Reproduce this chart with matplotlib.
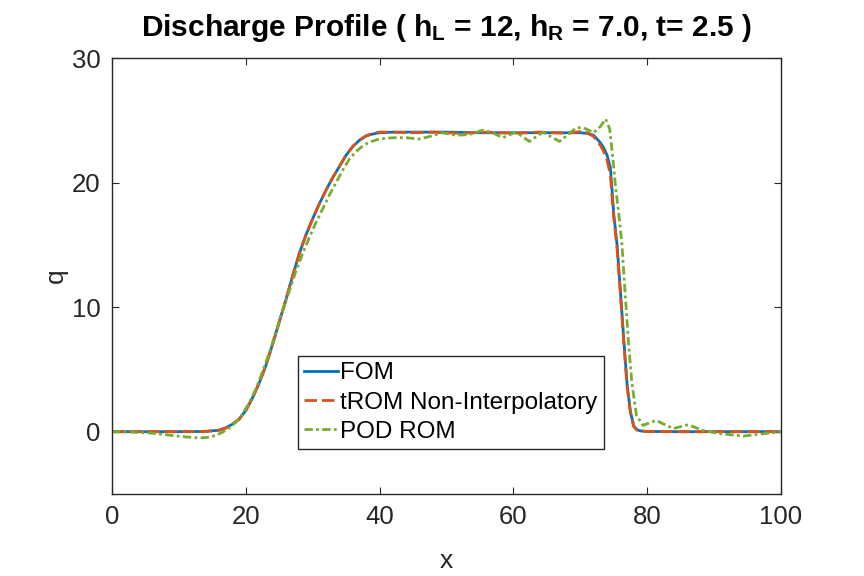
import numpy as np
import matplotlib
matplotlib.use("Agg")
import matplotlib.pyplot as plt

plt.rcParams['font.family'] = ['Liberation Sans', 'DejaVu Sans']
plt.rcParams['mathtext.fontset'] = 'custom'
plt.rcParams['mathtext.rm'] = 'Liberation Sans:bold'
plt.rcParams['mathtext.it'] = 'Liberation Sans:bold'
plt.rcParams['mathtext.bf'] = 'Liberation Sans:bold'

# values
x_fom = [0, 5, 10, 14, 16, 17, 18, 19, 20, 21, 22, 23, 24, 25, 26, 27, 28, 29, 30,
         31, 32, 33, 34, 35, 36, 37, 38, 39, 40, 42, 45, 50, 55, 60, 65, 70, 71, 72,
         73, 73.5, 74, 74.5, 75, 75.5, 76, 76.5, 77, 77.5, 78, 78.5, 79, 80, 85, 90,
         95, 100]
q_fom = [0, 0, 0, 0.02, 0.12, 0.3, 0.6, 1.0, 1.7, 2.7, 3.9, 5.3, 7.0, 8.8, 10.6,
         12.5, 14.3, 15.8, 17.1, 18.3, 19.4, 20.4, 21.3, 22.2, 22.9, 23.4, 23.75,
         23.9, 24.0, 24.05, 24.05, 24.05, 24.0, 24.0, 24.0, 24.0, 23.95, 23.8, 23.2,
         22.8, 22.2, 21.2, 17.5, 15.0, 11.3, 7.4, 3.8, 1.6, 0.45, 0.15, 0.06, 0.02,
         0, 0, 0, 0]

x_trom = [0, 5, 10, 14, 16, 17, 18, 19, 20, 21, 22, 23, 24, 25, 26, 27, 28, 29, 30,
          31, 32, 33, 34, 35, 36, 37, 38, 39, 40, 42, 45, 48, 52, 56, 60, 64, 68, 70,
          71, 72, 73, 73.5, 74, 74.5, 75, 75.5, 76, 76.5, 77, 77.5, 78, 78.5, 79, 80,
          85, 90, 95, 100]
q_trom = [0, 0, 0, 0.02, 0.12, 0.3, 0.6, 1.0, 1.7, 2.7, 3.9, 5.3, 7.0, 8.8, 10.6,
          12.5, 14.3, 15.8, 17.1, 18.3, 19.4, 20.4, 21.3, 22.2, 22.9, 23.4, 23.75,
          23.95, 24.05, 24.05, 24.0, 24.05, 23.95, 24.05, 23.95, 24.05, 23.95, 24.1,
          24.0, 23.7, 23.0, 22.5, 21.8, 20.6, 17.2, 14.7, 11.0, 7.2, 3.6, 1.5, 0.4,
          0.12, 0.05, 0.02, 0, 0, 0, 0]

x_pod = [0, 3, 6, 9, 11, 13, 14.5, 15.5, 16.5, 17.5, 18.5, 19.5, 20.5, 21.5, 22.5,
         23.5, 24.5, 25.5, 26.5, 27.5, 28.5, 29.5, 30.5, 31.5, 32.5, 33.5, 34.5,
         35.5, 36.5, 37.5, 38.5, 40, 42, 44, 46, 47.5, 49.4, 51.4, 53.4, 55.4, 56.9,
         58.4, 60.4, 62.4, 64.4, 66.9, 69.4, 70.5, 72.0, 73.0, 73.8, 74.4, 74.9,
         75.3, 75.7, 76.2, 76.7, 77.2, 77.7, 78.4, 79.4, 80.5, 81.4, 82.5, 83.9,
         86.1, 88.4, 90.9, 94.4, 97.4, 100]
q_pod = [0, -0.03, -0.12, -0.3, -0.42, -0.5, -0.45, -0.3, -0.05, 0.3, 0.75, 1.4,
         2.3, 3.4, 4.8, 6.3, 8.0, 9.7, 11.3, 12.9, 14.3, 15.6, 16.8, 17.9, 19.0,
         20.0, 21.0, 21.9, 22.5, 22.95, 23.25, 23.5, 23.6, 23.6, 23.5, 23.7, 24.0,
         23.8, 23.85, 24.2, 24.0, 23.6, 24.05, 23.3, 24.05, 23.3, 24.4, 24.4, 24.0,
         24.5, 25.1, 24.3, 21.8, 19.5, 17.8, 15.2, 11.2, 7.2, 4.0, 1.3, 0.5, 0.75,
         0.9, 0.6, 0.25, 0.56, 0.1, -0.16, -0.35, -0.16, 0]

labels = ['FOM', 'tROM Non-Interpolatory', 'POD ROM']
colors = ['#0072BD', '#D95319', '#77AC30']

fig = plt.figure(figsize=(8.64, 5.76), dpi=100)
ax = fig.add_axes([0.1296, 0.1424, 0.7743, 0.7569])

ax.plot(x_fom, q_fom, color=colors[0], lw=2, label=labels[0])
ax.plot(x_trom, q_trom, color=colors[1], lw=2, dashes=(4.5, 1.8), label=labels[1])
ax.plot(x_pod, q_pod, color=colors[2], lw=2, dashes=(3, 1.2, 1, 1.2), label=labels[2])

ax.set_xlim(0, 100)
ax.set_ylim(-5, 30)
ax.set_xticks([0, 20, 40, 60, 80, 100])
ax.set_yticks([0, 10, 20, 30])
ax.tick_params(direction='in', top=True, right=True, labelsize=18.5,
               colors='#262626', length=5, width=0.8, pad=8)
for s in ax.spines.values():
    s.set_color('#262626')
    s.set_linewidth(1.0)

ax.set_xlabel('x', fontsize=19, color='#262626', labelpad=14)
ax.set_ylabel('q', fontsize=19, color='#262626', labelpad=3)
ax.set_title(r'Discharge Profile ( h$_{L}$ = 12, h$_{R}$ = 7.0, t= 2.5 )',
             fontsize=21.5, fontweight='bold', pad=16)

leg = ax.legend(loc='lower left', bbox_to_anchor=(0.278, 0.103), borderaxespad=0,
                fontsize=17.5, handlelength=1.4, handletextpad=0.1, labelspacing=0.3,
                fancybox=False, framealpha=1, borderpad=0.25)
leg.get_frame().set_edgecolor('#262626')
leg.get_frame().set_linewidth(1.0)

fig.savefig('out.png', dpi=100)
